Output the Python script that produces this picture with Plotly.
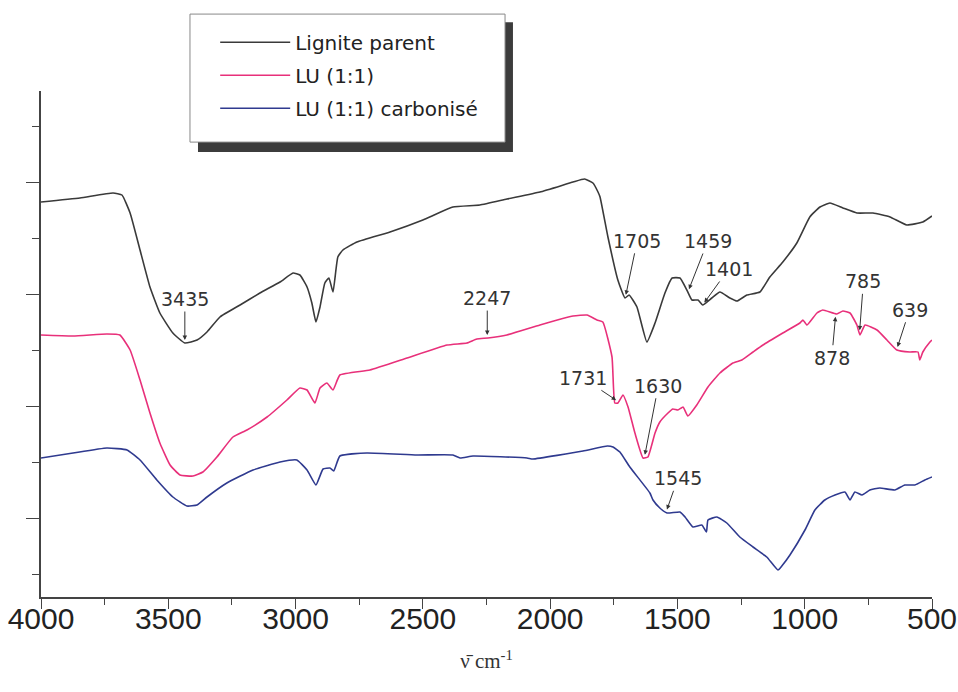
import numpy as np
import plotly.graph_objects as go

# ---- data (wavenumber cm-1, transmittance in arbitrary units) ----
lig_wn = [4000, 3847, 3717, 3682, 3650, 3611, 3572, 3533, 3482, 3435, 3387, 3348, 3297, 3218, 3140,
          3061, 3010, 2983, 2955, 2936, 2920, 2904, 2885, 2869, 2853, 2834, 2814, 2759, 2629, 2500,
          2382, 2276, 2170, 2040, 1910, 1865, 1832, 1812, 1804, 1773, 1734, 1706, 1690, 1659, 1620,
          1588, 1549, 1521, 1490, 1463, 1443, 1419, 1401, 1365, 1333, 1294, 1266, 1227, 1176, 1137,
          1086, 1031, 980, 940, 901, 850, 795, 732, 665, 599, 536, 500]
lig_t = [395, 399, 404, 402, 384, 347, 310, 284, 264, 254, 257, 265, 280, 292, 304,
         315, 324, 322, 310, 294, 275, 290, 314, 319, 305, 340, 347, 355, 365, 377,
         390, 392, 398, 405, 415, 418, 414, 405, 400, 360, 317, 299, 302, 290, 255,
         274, 304, 319, 319, 307, 297, 297, 292, 299, 305, 299, 296, 302, 305, 320,
         335, 354, 380, 390, 394, 389, 384, 384, 380, 372, 375, 381]

lu_wn = [4000, 3874, 3741, 3690, 3650, 3611, 3572, 3533, 3493, 3454, 3403, 3364, 3309, 3246, 3191,
         3112, 3034, 2983, 2955, 2924, 2904, 2877, 2853, 2826, 2708, 2562, 2405, 2327, 2288, 2244,
         2170, 2040, 1910, 1855, 1816, 1793, 1757, 1746, 1734, 1714, 1694, 1667, 1635, 1616, 1588,
         1569, 1537, 1518, 1498, 1478, 1459, 1424, 1380, 1333, 1282, 1247, 1203, 1164, 1086, 1019,
         1007, 991, 952, 929, 874, 850, 822, 795, 783, 763, 716, 677, 638, 587, 555, 548, 536, 508, 500]
lu_t = [262, 261, 263, 262, 247, 217, 184, 154, 132, 122, 121, 125, 140, 160, 167,
        180, 197, 209, 207, 194, 209, 214, 207, 222, 227, 239, 252, 254, 258, 259,
        262, 272, 281, 282, 277, 275, 240, 194, 194, 202, 190, 164, 139, 140, 164,
        175, 184, 188, 187, 190, 181, 192, 210, 224, 234, 237, 245, 252, 264, 274,
        277, 272, 284, 287, 283, 286, 284, 272, 262, 272, 267, 257, 247, 245, 245, 237, 245, 255, 257]

luc_wn = [4000, 3874, 3741, 3662, 3611, 3545, 3482, 3427, 3387, 3348, 3270, 3167, 3061, 2995, 2955,
          2920, 2892, 2865, 2850, 2826, 2720, 2523, 2382, 2354, 2303, 2091, 2068, 1871, 1775, 1753,
          1726, 1687, 1608, 1596, 1569, 1541, 1490, 1470, 1439, 1404, 1386, 1380, 1345, 1306, 1255,
          1203, 1149, 1105, 1090, 1058, 999, 960, 921, 881, 842, 822, 803, 775, 744, 705,
          646, 607, 567, 528, 500]
luc_t = [139, 144, 149, 147, 137, 117, 100, 91, 92, 100, 114, 127, 135, 137, 127,
         112, 128, 129, 126, 141, 144, 142, 142, 139, 141, 139, 138, 146, 151, 150,
         145, 130, 104, 97, 89, 84, 85, 80, 70, 72, 65, 77, 80, 74, 60,
         50, 40, 27, 31, 42, 67, 87, 97, 102, 105, 97, 105, 102, 107, 109,
         107, 112, 112, 117, 120]

series_names = ["Lignite parent", "LU (1:1)", "LU (1:1) carbonisé"]
series_colors = ["#3a3a3a", "#e8307a", "#2f3a8f"]

# peak labels
peak_labels = ["3435", "2247", "1705", "1459", "1401", "785", "639", "878", "1731", "1630", "1545"]
peak_wn = [3435, 2247, 1705, 1459, 1401, 785, 639, 878, 1731, 1630, 1545]
peak_series = [0, 1, 0, 0, 0, 1, 1, 1, 1, 1, 2]
peak_dx = [0, 0, 12, 20, 26, 4, 13, -4, -36, 14, 12]
peak_dy = [-44, -40, -57, -51, -36, -52, -40, 44, -24, -72, -34]

x_ticks = [4000, 3500, 3000, 2500, 2000, 1500, 1000, 500]

wns = [lig_wn, lu_wn, luc_wn]
ts = [lig_t, lu_t, luc_t]

fig = go.Figure()
for i in range(3):
    fig.add_trace(go.Scatter(x=wns[i], y=ts[i], mode="lines", name=series_names[i],
                             legendgroup=str(i),
                             line=dict(color=series_colors[i], width=1.6, shape="spline", smoothing=0.4)))

for lab, wn, si, dx, dy in zip(peak_labels, peak_wn, peak_series, peak_dx, peak_dy):
    yv = float(np.interp(wn, wns[si][::-1], ts[si][::-1]))
    fig.add_annotation(x=wn, y=yv, text=lab, showarrow=True, arrowhead=2, arrowsize=0.9,
                       arrowwidth=1, arrowcolor="#333", ax=dx, ay=dy, standoff=3,
                       font=dict(family="DejaVu Sans", size=19, color="#333"))

# legend frame with drop shadow
fig.add_shape(type="rect", xref="paper", yref="paper", x0=0.1762, x1=0.5297, y0=0.8794, y1=1.136,
              fillcolor="#3c3c3c", line=dict(width=0), layer="above")
fig.add_shape(type="rect", xref="paper", yref="paper", x0=0.1672, x1=0.5208, y0=0.899, y1=1.152,
              fillcolor="white", line=dict(color="#888", width=1), layer="above")

fig.update_layout(
    width=958, height=692,
    margin=dict(l=41, r=26, t=91, b=95, autoexpand=False),
    paper_bgcolor="white", plot_bgcolor="white",
    showlegend=True,
    legend=dict(x=0.1955, y=1.135, xanchor="left", yanchor="top", bgcolor="rgba(0,0,0,0)",
                borderwidth=0, font=dict(family="DejaVu Sans", size=20, color="#222"),
                tracegroupgap=4, itemwidth=70),
    xaxis=dict(range=[4000, 500], tickvals=x_ticks, ticks="outside", ticklen=10, tickwidth=1.3,
               tickcolor="#444", showline=True, linecolor="#444", linewidth=1.5, showgrid=False,
               zeroline=False, automargin=False, ticklabelstandoff=-16, ticklabeloverflow="allow",
               minor=dict(ticks="outside", ticklen=6, tickwidth=1.2, tickcolor="#444", dtick=250, tick0=4000),
               tickfont=dict(family="Liberation Sans, Arial", size=30, color="#222"),
               title=dict(text="ν̄ cm<sup>-1</sup>", standoff=20,
                          font=dict(family="Liberation Serif", size=21, color="#333"))),
    yaxis=dict(range=[0, 506], showticklabels=False, ticks="outside", ticklen=13, tickwidth=1.3,
               tickcolor="#444", tick0=79, dtick=112, showline=True, linecolor="#444", linewidth=1.5,
               showgrid=False, zeroline=False, automargin=False,
               minor=dict(ticks="outside", ticklen=7, tickwidth=1.2, tickcolor="#444", tick0=23, dtick=56)),
)

fig.write_html("out.html", config={"displayModeBar": False},
               post_script="document.body.style.margin='0';document.body.style.overflow='hidden';")
